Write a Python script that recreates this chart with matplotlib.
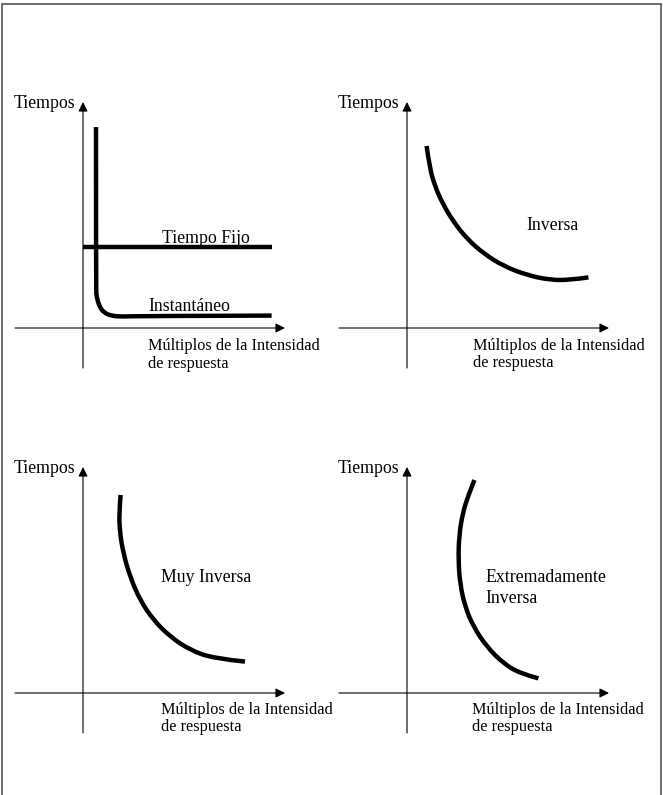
"""Curvas características de relés: tiempo vs múltiplos de la intensidad."""
import matplotlib
matplotlib.use('Agg')
import matplotlib.pyplot as plt
from matplotlib.patches import Rectangle, PathPatch
from matplotlib.path import Path

plt.rcParams['font.family'] = ['Liberation Serif', 'DejaVu Serif']

W, H, DPI = 663, 795, 100
PX = 20.0  # pixels per data unit inside every panel

# panel origins (axis crossing) in figure pixels, top-left origin
origins = {'fijo': (83, 328), 'inversa': (407, 328),
           'muy': (83, 693), 'extrema': (407, 693)}

# curve points, panel data units (x: múltiplos, y: tiempo)
fijo_x = [0.0, 9.45]
fijo_y = [4.03, 4.03]
inst_x = [0.65, 0.65, 0.68, 0.82, 1.05, 1.43, 2.02, 2.85, 9.43]
inst_y = [10.05, 1.90, 1.57, 1.07, 0.77, 0.60, 0.57, 0.60, 0.62]
inv_x = [0.98, 1.12, 1.40, 1.82, 2.32, 2.98, 3.82, 4.82, 5.98, 7.15, 8.15, 9.07]
inv_y = [9.10, 8.07, 7.07, 6.15, 5.32, 4.48, 3.73, 3.10, 2.65, 2.40, 2.40, 2.53]
muy_x = [1.88, 1.80, 1.85, 2.02, 2.35, 2.85, 3.52, 4.35, 5.35, 6.52, 8.10]
muy_y = [9.90, 8.98, 7.98, 6.98, 5.82, 4.65, 3.65, 2.82, 2.15, 1.73, 1.57]
ext_x = [3.37, 3.07, 2.78, 2.60, 2.57, 2.65, 2.90, 3.32, 3.98, 4.82, 5.65, 6.57]
ext_y = [10.65, 9.90, 8.98, 7.82, 6.65, 5.48, 4.32, 3.32, 2.32, 1.48, 0.98, 0.73]

mult_1 = 'Múltiplos de la Intensidad'
mult_2 = 'de respuesta'
FS = 12.8
FS_X = 11.7

fig = plt.figure(figsize=(W / DPI, H / DPI), dpi=DPI)


def panel(key):
    ox, oy = origins[key]
    left, top = ox - 83, oy - 248
    ax = fig.add_axes([left / W, (H - (top + 300)) / H, 330 / W, 300 / H])
    ax.set_xlim((left - ox) / PX, (left + 330 - ox) / PX)
    ax.set_ylim((oy - (top + 300)) / PX, (oy - top) / PX)
    ax.axis('off')
    arrow = dict(arrowstyle='-|>', color='black', lw=0.8,
                 mutation_scale=14, shrinkA=0, shrinkB=0)
    ax.annotate('', xy=(10.1, 0), xytext=(-3.4, 0), arrowprops=arrow)
    ax.annotate('', xy=(0, 11.3), xytext=(0, -2.0), arrowprops=arrow)
    ax.text(-3.45, 10.98, 'Tiempos', fontsize=FS, va='baseline', ha='left')
    return ax


def smooth(ax, xs, ys):
    # quadratic bezier through midpoints, read points act as controls
    pts = list(zip(xs, ys))
    verts, codes = [pts[0]], [Path.MOVETO]
    for i in range(1, len(pts) - 1):
        mid = ((pts[i][0] + pts[i + 1][0]) / 2, (pts[i][1] + pts[i + 1][1]) / 2)
        end = pts[-1] if i == len(pts) - 2 else mid
        verts += [pts[i], end]
        codes += [Path.CURVE3, Path.CURVE3]
    if len(pts) == 2:
        verts.append(pts[1])
        codes.append(Path.LINETO)
    ax.add_patch(PathPatch(Path(verts, codes), fill=False, edgecolor='black',
                           lw=3.2, capstyle='butt', joinstyle='round',
                           clip_on=False))


def xlabel(ax, x, y):
    ax.text(x, y, mult_1, fontsize=FS_X, va='baseline')
    ax.text(x, y - 0.87, mult_2, fontsize=FS_X, va='baseline')


ax = panel('fijo')
smooth(ax, fijo_x, fijo_y)
smooth(ax, inst_x, inst_y)
ax.text(3.95, 4.23, 'Tiempo Fijo', fontsize=FS, va='baseline')
ax.text(3.25, 0.87, 'Instantáneo', fontsize=FS, va='baseline')
xlabel(ax, 3.25, -1.12)

ax = panel('inversa')
smooth(ax, inv_x, inv_y)
ax.text(5.95, 4.9, 'Inversa', fontsize=FS, va='baseline')
xlabel(ax, 3.3, -1.1)

ax = panel('muy')
smooth(ax, muy_x, muy_y)
ax.text(3.9, 5.57, 'Muy Inversa', fontsize=FS, va='baseline')
xlabel(ax, 3.9, -1.05)

ax = panel('extrema')
smooth(ax, ext_x, ext_y)
ax.text(3.9, 5.57, 'Extremadamente', fontsize=FS, va='baseline')
ax.text(3.9, 4.52, 'Inversa', fontsize=FS, va='baseline')
xlabel(ax, 3.25, -1.05)

# outer frame of the original figure
fig.patches.append(Rectangle((1.5 / W, -0.01), (660.5 - 1.5) / W, (H - 4) / H + 0.01,
                             transform=fig.transFigure, fill=False,
                             edgecolor='#555555', lw=1.2))

fig.savefig('out.png', dpi=DPI)
